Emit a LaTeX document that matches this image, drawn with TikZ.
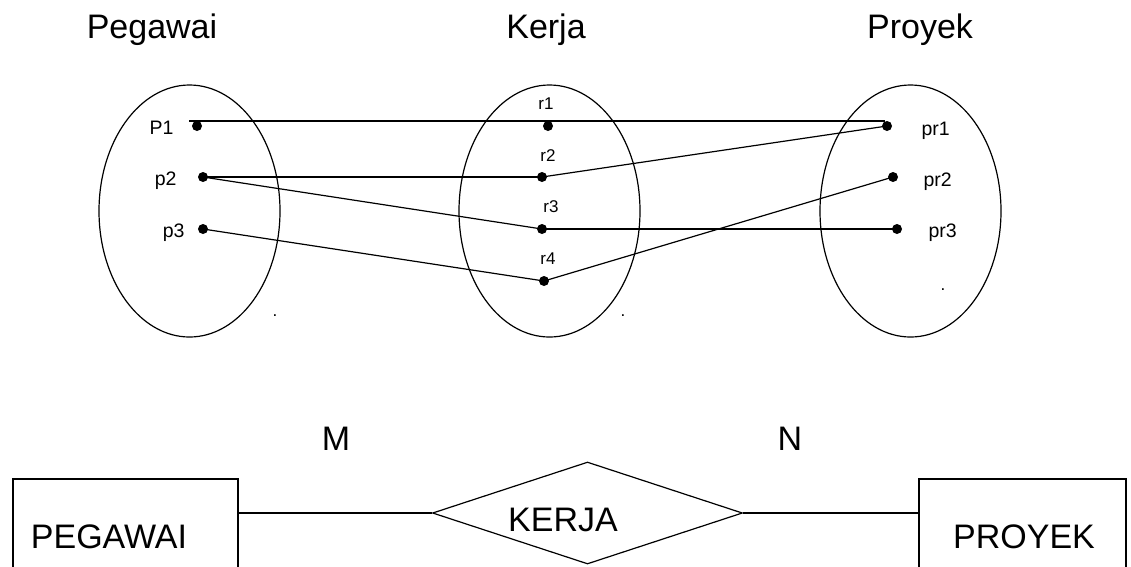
\documentclass[tikz,border=0pt]{standalone}
\usepackage{fontspec}
\setmainfont{Liberation Sans}
\usetikzlibrary{shapes.geometric}
\begin{document}
\begin{tikzpicture}[x=1pt,y=-1pt]
            \tikzset{
                title/.style={font=\fontsize{34}{40}\selectfont, anchor=base},
                setellipse/.style={draw, ellipse, line width=1.2pt, minimum width=181pt, minimum height=252pt, inner sep=0pt},
                dot/.style={fill, circle, minimum size=10pt, inner sep=0pt},
                plabel/.style={font=\fontsize{19.5}{22}\selectfont, anchor=base},
                rlabel/.style={font=\fontsize{17}{20}\selectfont, anchor=base},
                entity/.style={draw, line width=1.2pt, minimum height=89pt, inner sep=0pt},
                relation/.style={draw, diamond, line width=1.2pt, aspect=3, minimum width=310pt, minimum height=102pt, inner sep=0pt},
                link/.style={line width=1.2pt}
            }
            \useasboundingbox (0,0) rectangle (1131,566);
            \draw node[title] (tP) at (152,38) {Pegawai};
            \draw node[title] (tK) at (546,38) {Kerja};
            \draw node[title] (tR) at (920,38) {Proyek};
            \draw node[setellipse] (setP) at (189.5,211) {};
            \draw node[setellipse] (setK) at (549.5,211) {};
            \draw node[setellipse] (setR) at (910.5,211) {};
            \draw node[dot] (P1) at (197,126) {};
            \draw node[dot] (p2) at (203,177) {};
            \draw node[dot] (p3) at (203,229) {};
            \draw node[dot] (r1) at (548,126) {};
            \draw node[dot] (r2) at (542,177) {};
            \draw node[dot] (r3) at (542,229) {};
            \draw node[dot] (r4) at (544,281) {};
            \draw node[dot] (pr1) at (887,126) {};
            \draw node[dot] (pr2) at (893,177) {};
            \draw node[dot] (pr3) at (897,229) {};
            \draw node[plabel, anchor=base east] (lP1) at (177,134) {P1};
            \draw node[plabel, anchor=base east] (lp2) at (180,185) {p2};
            \draw node[plabel, anchor=base east] (lp3) at (188,237) {p3};
            \draw node[rlabel] (lr1) at (546,109) {r1};
            \draw node[rlabel] (lr2) at (548,161) {r2};
            \draw node[rlabel] (lr3) at (551,212) {r3};
            \draw node[rlabel] (lr4) at (548,264) {r4};
            \draw node[plabel, anchor=base west] (lpr1) at (918,135) {pr1};
            \draw node[plabel, anchor=base west] (lpr2) at (920,186) {pr2};
            \draw node[plabel, anchor=base west] (lpr3) at (925,237) {pr3};
            \draw node[rlabel] (eP) at (275,316) {.};
            \draw node[rlabel] (eK) at (623,316) {.};
            \draw node[rlabel] (eR) at (943,290) {.};
            \draw[link] ([shift={(-8,-5)}]P1.center) -- ([shift={(-2,-5)}]pr1.center);
            \foreach \x/\y in {%
            p2/r2, p2/r3, p3/r4, r2/pr1, r3/pr3, r4/pr2%
            }{
                \draw[link] (\x.center) -- (\y.center);
            }
            % ER diagram
            \draw node[entity, minimum width=225pt] (peg) at (125.5,523.5) {};
            \draw node[entity, minimum width=207pt] (pro) at (1022.5,523.5) {};
            \draw node[relation] (ker) at (587.5,513) {};
            \draw node[title] (tpeg) at (109,548) {PEGAWAI};
            \draw node[title] (tpro) at (1024,548) {PROYEK};
            \draw node[title] (tker) at (563,531) {KERJA};
            \draw node[title] (m) at (336,450) {M};
            \draw node[title] (n) at (790,450) {N};
            \draw[link] (peg.east |- ker.west) -- (ker.west);
            \draw[link] (ker.east) -- (pro.west |- ker.east);
        \end{tikzpicture}
\end{document}
